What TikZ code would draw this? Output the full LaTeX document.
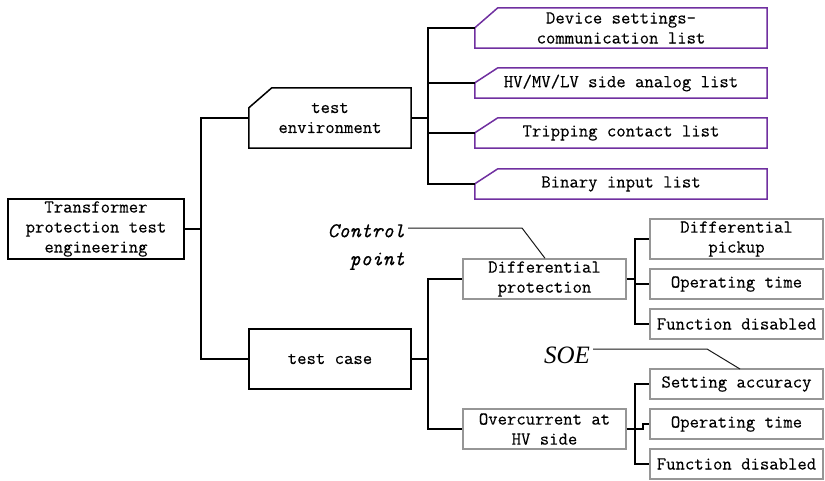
\documentclass[tikz,border=0pt]{standalone}
\usepackage{fontspec}
\newfontfamily\mono{Latin Modern Mono}[FakeBold=0.25]
\newfontfamily\soefont{Liberation Serif}
\definecolor{vio}{RGB}{112,48,160}
\definecolor{gbox}{RGB}{150,150,150}
\begin{document}
\begin{tikzpicture}[x=1pt,y=-1pt,
  txt/.style={font=\mono\fontsize{18.2}{20}\selectfont, align=center, inner sep=0pt},
  blackbox/.style={txt, draw=black, line width=1.5pt},
  graybox/.style={txt, draw=gbox, line width=1.4pt},
  plainbox/.style={txt},
  link/.style={line width=1.2pt, black},
  callout/.style={line width=1pt, black!90},
  cham/.style={line width=1.5pt}
]
\useasboundingbox (0,0) rectangle (825,480);
% root
\node[blackbox, minimum width=176pt, minimum height=60pt] (root) at (96,229) {Transformer\\protection test\\engineering};
% level 2
\node[plainbox, minimum width=162pt, minimum height=60pt] (te) at (330,118) {test\\environment};
\draw[cham, black] ([xshift=23pt]te.north west) -- (te.north east) -- (te.south east) -- (te.south west) -- ([yshift=-20pt]te.north west) -- cycle;
\node[blackbox, minimum width=162pt, minimum height=60pt] (tc) at (330,359) {test case};
% purple list
\node[plainbox, minimum width=292pt, minimum height=40pt] (p1) at (621,28) {Device settings-\\communication list};
\node[plainbox, minimum width=292pt, minimum height=30pt] (p2) at (621,83) {HV/MV/LV side analog list};
\node[plainbox, minimum width=292pt, minimum height=30pt] (p3) at (621,133) {Tripping contact list};
\node[plainbox, minimum width=292pt, minimum height=30pt] (p4) at (621,184) {Binary input list};
\draw[cham, vio] ([xshift=23pt]p1.north west) -- (p1.north east) -- (p1.south east) -- (p1.south west) -- ([yshift=-20pt]p1.north west) -- cycle;
\foreach \n in {p2,p3,p4}{
  \draw[cham, vio] ([xshift=23pt]\n.north west) -- (\n.north east) -- (\n.south east) -- (\n.south west) -- ([yshift=-15pt]\n.north west) -- cycle;
}
% test case children
\node[graybox, minimum width=163pt, minimum height=40pt] (dp) at (544.5,279) {Differential\\protection};
\node[graybox, minimum width=163pt, minimum height=40pt] (oc) at (544.5,429) {Overcurrent at\\HV side};
\node[graybox, minimum width=173pt, minimum height=40pt] (g1) at (736.5,239) {Differential\\pickup};
\node[graybox, minimum width=173pt, minimum height=30pt] (g2) at (736.5,284) {Operating time};
\node[graybox, minimum width=173pt, minimum height=30pt] (g3) at (736.5,324) {Function disabled};
\node[graybox, minimum width=173pt, minimum height=30pt] (g4) at (736.5,384) {Setting accuracy};
\node[graybox, minimum width=173pt, minimum height=30pt] (g5) at (736.5,424) {Operating time};
\node[graybox, minimum width=173pt, minimum height=30pt] (g6) at (736.5,464) {Function disabled};
% connectors
\coordinate (j1) at (201,229);
\draw[link] (root.east) -- (j1);
\draw[link] (j1) |- (te.west);
\draw[link] (j1) |- (tc.west);
\coordinate (j2) at (428,118);
\draw[link] (te.east) -- (j2);
\draw[link] (j2) |- (p1.west);
\draw[link] (j2) |- (p2.west);
\draw[link] (j2) |- (p3.west);
\draw[link] (j2) |- (p4.west);
\coordinate (j3) at (428,359);
\draw[link] (tc.east) -- (j3);
\draw[link] (j3) |- (dp.west);
\draw[link] (j3) |- (oc.west);
\coordinate (j4) at (635,279);
\draw[link] (dp.east) -- (j4);
\draw[link] (j4) |- (g1.west);
\draw[link] (j4) |- (g2.west);
\draw[link] (j4) |- (g3.west);
\coordinate (j5) at (635,429);
\coordinate (k5) at (643,429);
\draw[link] (oc.east) -- (j5);
\draw[link] (j5) |- (g4.west);
\draw[link] (j5) |- (g6.west);
\draw[link] (j5) -- (k5) |- (g5.west);
% callouts
\node[inner sep=0pt, align=right, anchor=east, font=\mono\itshape\fontsize{21}{28}\selectfont] (cp) at (405,247) {Control\\point};
\coordinate (c1) at (408,228);
\coordinate (c2) at (522,228);
\draw[callout] (c1) -- (c2) -- ([xshift=0.5pt]dp.north);
\node[inner sep=0pt, font=\soefont\itshape\fontsize{25}{28}\selectfont] (soe) at (567,355) {SOE};
\coordinate (s1) at (593,349);
\coordinate (s2) at (707,349);
\coordinate (s3) at (740,369);
\draw[callout] (s1) -- (s2) -- (s3);
\end{tikzpicture}
\end{document}
